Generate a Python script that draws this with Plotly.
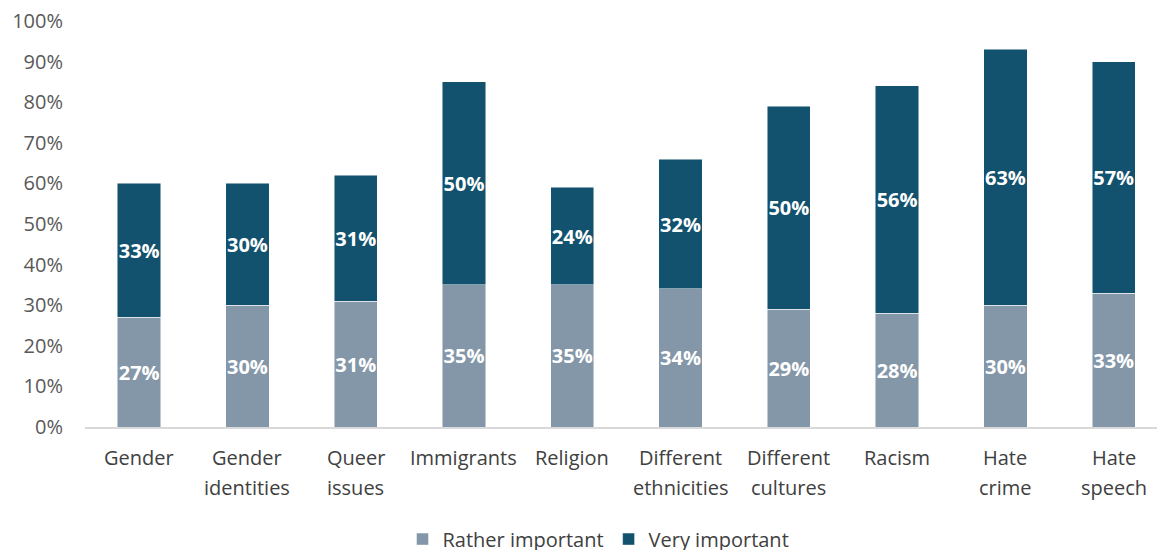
import plotly.graph_objects as go

categories = ["Gender", "Gender identities", "Queer issues", "Immigrants", "Religion",
              "Different ethnicities", "Different cultures", "Racism", "Hate crime", "Hate speech"]
category_lines = [["Gender"], ["Gender", "identities"], ["Queer", "issues"], ["Immigrants"],
                  ["Religion"], ["Different", "ethnicities"], ["Different", "cultures"],
                  ["Racism"], ["Hate", "crime"], ["Hate", "speech"]]
rather_important = [27, 30, 31, 35, 35, 34, 29, 28, 30, 33]
very_important = [33, 30, 31, 50, 24, 32, 50, 56, 63, 57]
y_ticks = [0, 10, 20, 30, 40, 50, 60, 70, 80, 90, 100]

FONT = "Open Sans, Liberation Sans, Arial, sans-serif"
C_RATHER = "#8497A9"
C_VERY = "#12526E"

fig = go.Figure()
for name, vals, col in [("Rather important", rather_important, C_RATHER),
                        ("Very important", very_important, C_VERY)]:
    fig.add_trace(go.Bar(
        name=name, x=categories, y=vals,
        marker=dict(color=col, line=dict(color="rgba(255,255,255,0.6)", width=0.8)),
        text=[f"{v}%" for v in vals], textposition="inside", insidetextanchor="middle",
        constraintext="none", textangle=0,
        textfont=dict(family=FONT, size=20, color="white", weight="bold"),
        width=0.4, hoverinfo="skip",
    ))

# category labels, one annotation per line for wider line spacing
for cat, lines in zip(categories, category_lines):
    for i, ln in enumerate(lines):
        fig.add_annotation(x=cat, xref="x", y=0, yref="paper", text=ln, showarrow=False,
                           yanchor="middle", yshift=-30 - 30 * i,
                           font=dict(family=FONT, size=20, color="#404040"))

fig.update_layout(
    width=1157, height=550, barmode="stack", bargap=0.6,
    plot_bgcolor="white", paper_bgcolor="white",
    margin=dict(l=85, r=0, t=21, b=123, autoexpand=False),
    xaxis=dict(showticklabels=False, range=[-0.5, 9.4], showline=True,
               linecolor="#D9D9D9", linewidth=1.5, ticks="", fixedrange=True),
    yaxis=dict(range=[0, 100], tickvals=y_ticks, ticktext=[f"{v}%" for v in y_ticks],
               showgrid=False, zeroline=False, showline=False,
               tickfont=dict(family=FONT, size=20, color="#595959"), ticklabelstandoff=21),
    legend=dict(orientation="h", x=0.479, xanchor="center", y=-0.228, yref="paper",
                yanchor="top",
                font=dict(family=FONT, size=20, color="#404040"), traceorder="normal"),
    showlegend=True,
)

fig.write_html("out.html")
